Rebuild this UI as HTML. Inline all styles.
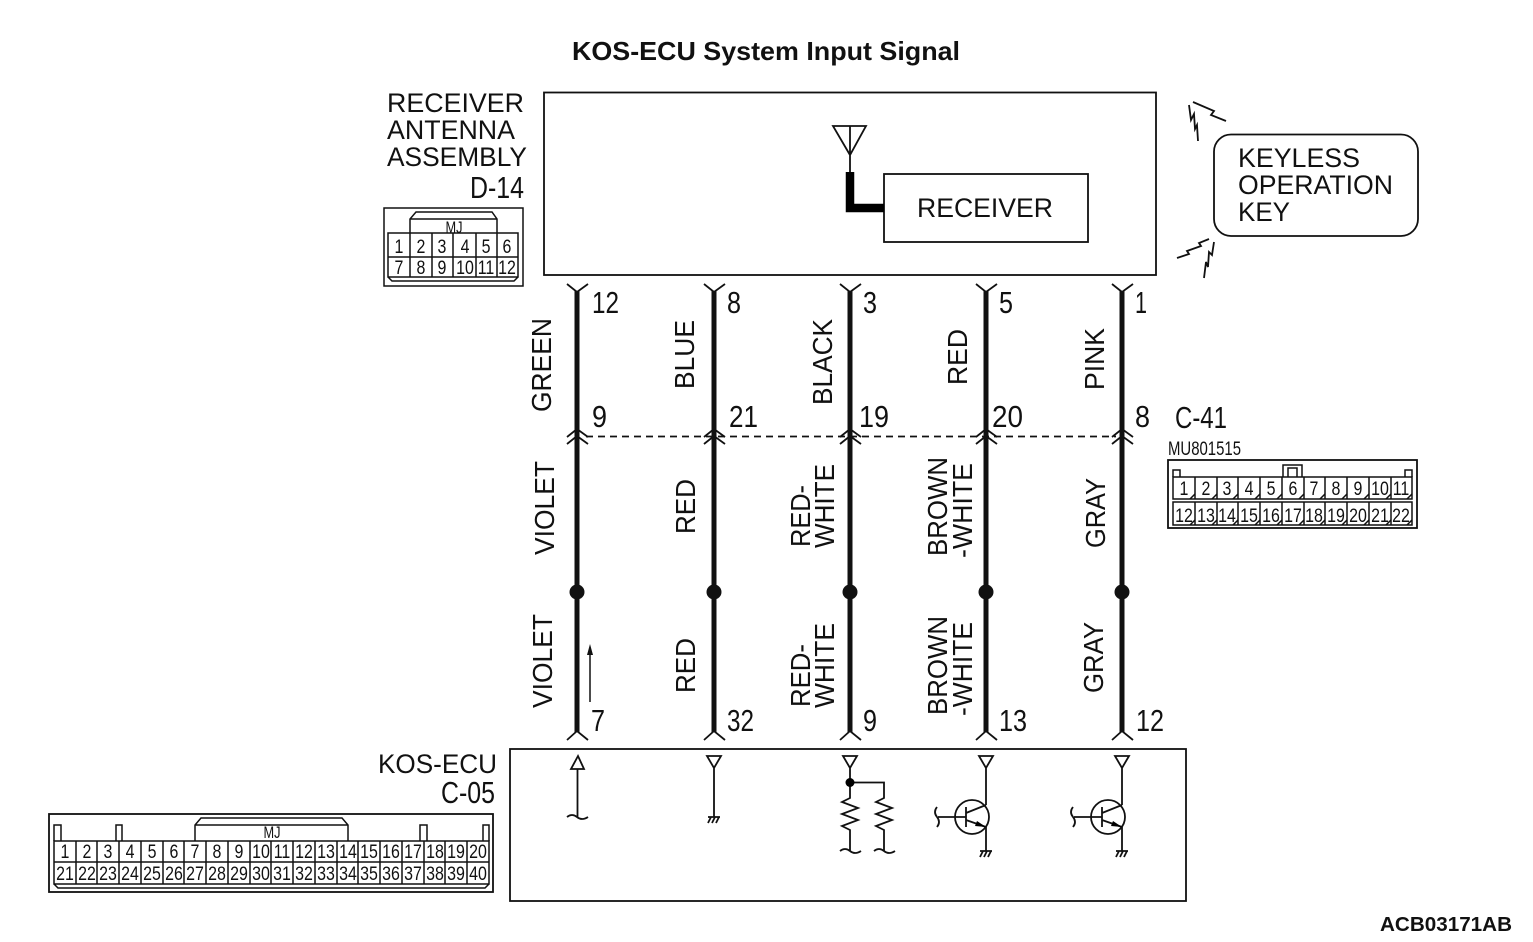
<!DOCTYPE html>
<html><head><meta charset="utf-8"><title>KOS-ECU System Input Signal</title>
<style>
html,body{margin:0;padding:0;background:#fff}
svg{display:block}
text{font-family:"Liberation Sans",sans-serif;fill:#111}
.l{font-size:27px}
.v text{font-size:28px}
.n{font-size:31px}
.c text{font-size:19px;text-anchor:middle;transform-box:fill-box;transform-origin:center;transform:scaleX(.84)}
.s{fill:none;stroke:#111;stroke-width:1.800}
.t{fill:none;stroke:#111;stroke-width:1.500}
.w{fill:none;stroke:#111;stroke-width:5}
</style></head><body>
<svg width="1533" height="942" viewBox="0 0 1533 942" xmlns="http://www.w3.org/2000/svg">
<text x="572" y="60" font-size="26" font-weight="bold" textLength="388" lengthAdjust="spacingAndGlyphs">KOS-ECU System Input Signal</text>
<text x="1380" y="931" font-size="20" font-weight="bold" textLength="132" lengthAdjust="spacingAndGlyphs">ACB03171AB</text>

<!-- boxes -->
<rect class="s" x="544" y="92.500" width="612" height="182.500"/>
<rect class="s" x="884" y="174" width="204" height="68"/>
<rect class="s" x="1214" y="134.500" width="204" height="101.500" rx="17"/>
<rect class="s" x="510" y="749" width="676" height="152"/>

<text class="l" x="387" y="112" textLength="137" lengthAdjust="spacingAndGlyphs">RECEIVER</text>
<text class="l" x="387" y="139" textLength="128" lengthAdjust="spacingAndGlyphs">ANTENNA</text>
<text class="l" x="387" y="166" textLength="140" lengthAdjust="spacingAndGlyphs">ASSEMBLY</text>
<text class="l" x="917" y="217" textLength="136" lengthAdjust="spacingAndGlyphs">RECEIVER</text>
<text class="l" x="1238" y="167" textLength="122" lengthAdjust="spacingAndGlyphs">KEYLESS</text>
<text class="l" x="1238" y="194" textLength="155" lengthAdjust="spacingAndGlyphs">OPERATION</text>
<text class="l" x="1238" y="221" textLength="52" lengthAdjust="spacingAndGlyphs">KEY</text>
<text class="l" x="378" y="773" textLength="119" lengthAdjust="spacingAndGlyphs">KOS-ECU</text>
<text class="n" x="441" y="803" textLength="54" lengthAdjust="spacingAndGlyphs">C-05</text>
<text class="n" x="470" y="198" textLength="54" lengthAdjust="spacingAndGlyphs">D-14</text>
<text class="n" x="1175" y="428" textLength="52" lengthAdjust="spacingAndGlyphs">C-41</text>
<text x="1168" y="455" font-size="19" textLength="73" lengthAdjust="spacingAndGlyphs">MU801515</text>

<!-- antenna -->
<path class="s" d="M833 126H866L850 155ZM850 126V175"/>
<path d="M850 172V208H884" fill="none" stroke="#000" stroke-width="8.500"/>

<!-- lightning -->
<path class="s" d="M1193 102L1214 111L1211 115L1226 121M1189 105L1191 120L1194 114L1195 129L1197 125L1198 141M1209 239L1199 243L1201 246L1187 251L1189 254L1177 258M1214 242L1212 255L1209 252L1208 267L1206 262L1204 278"/>

<!-- wires -->
<path class="w" d="M577 291V732M714 291V732M850 291V732M986 291V732M1122 291V732"/>
<path class="s" stroke-width="1.500" stroke-dasharray="7 5" d="M586 436.500H1116"/>
<g class="s">
<path d="M567 284L577 292L588 284M567 437L577 429L588 437M567 444L577 436L588 444M567 740L577 731L588 740"/>
<path d="M704 284L714 292L725 284M704 437L714 429L725 437M704 444L714 436L725 444M704 740L714 731L725 740"/>
<path d="M840 284L850 292L861 284M840 437L850 429L861 437M840 444L850 436L861 444M840 740L850 731L861 740"/>
<path d="M976 284L986 292L997 284M976 437L986 429L997 437M976 444L986 436L997 444M976 740L986 731L997 740"/>
<path d="M1112 284L1122 292L1133 284M1112 437L1122 429L1133 437M1112 444L1122 436L1133 444M1112 740L1122 731L1133 740"/>
</g>
<g fill="#111"><circle cx="577" cy="592" r="7.500"/><circle cx="714" cy="592" r="7.500"/><circle cx="850" cy="592" r="7.500"/><circle cx="986" cy="592" r="7.500"/><circle cx="1122" cy="592" r="7.500"/></g>
<path class="t" d="M590 702V650"/><path d="M590 644L587 655H593Z" fill="#111"/>

<!-- wire numbers -->
<g class="n">
<text x="592" y="313" textLength="27" lengthAdjust="spacingAndGlyphs">12</text>
<text x="727" y="313" textLength="14" lengthAdjust="spacingAndGlyphs">8</text>
<text x="863" y="313" textLength="14" lengthAdjust="spacingAndGlyphs">3</text>
<text x="999" y="313" textLength="14" lengthAdjust="spacingAndGlyphs">5</text>
<text x="1135" y="313" textLength="12" lengthAdjust="spacingAndGlyphs">1</text>
<text x="592" y="427" textLength="15" lengthAdjust="spacingAndGlyphs">9</text>
<text x="729" y="427" textLength="29" lengthAdjust="spacingAndGlyphs">21</text>
<text x="859" y="427" textLength="30" lengthAdjust="spacingAndGlyphs">19</text>
<text x="992" y="427" textLength="31" lengthAdjust="spacingAndGlyphs">20</text>
<text x="1135" y="427" textLength="15" lengthAdjust="spacingAndGlyphs">8</text>
<text x="591" y="731" textLength="14" lengthAdjust="spacingAndGlyphs">7</text>
<text x="727" y="731" textLength="27" lengthAdjust="spacingAndGlyphs">32</text>
<text x="863" y="731" textLength="14" lengthAdjust="spacingAndGlyphs">9</text>
<text x="999" y="731" textLength="28" lengthAdjust="spacingAndGlyphs">13</text>
<text x="1136" y="731" textLength="28" lengthAdjust="spacingAndGlyphs">12</text>
</g>

<!-- wire colours -->
<g class="v">
<text transform="translate(551 412) rotate(-90)" textLength="94" lengthAdjust="spacingAndGlyphs">GREEN</text>
<text transform="translate(694 389) rotate(-90)" textLength="69" lengthAdjust="spacingAndGlyphs">BLUE</text>
<text transform="translate(832 405) rotate(-90)" textLength="86" lengthAdjust="spacingAndGlyphs">BLACK</text>
<text transform="translate(967 385) rotate(-90)" textLength="56" lengthAdjust="spacingAndGlyphs">RED</text>
<text transform="translate(1104 390) rotate(-90)" textLength="62" lengthAdjust="spacingAndGlyphs">PINK</text>
<text transform="translate(554 555) rotate(-90)" textLength="94" lengthAdjust="spacingAndGlyphs">VIOLET</text>
<text transform="translate(695 534) rotate(-90)" textLength="55" lengthAdjust="spacingAndGlyphs">RED</text>
<text transform="translate(810 547) rotate(-90)" textLength="62" lengthAdjust="spacingAndGlyphs">RED-</text>
<text transform="translate(834 548) rotate(-90)" textLength="84" lengthAdjust="spacingAndGlyphs">WHITE</text>
<text transform="translate(947 556) rotate(-90)" textLength="99" lengthAdjust="spacingAndGlyphs">BROWN</text>
<text transform="translate(972 558) rotate(-90)" textLength="95" lengthAdjust="spacingAndGlyphs">-WHITE</text>
<text transform="translate(1105 548) rotate(-90)" textLength="70" lengthAdjust="spacingAndGlyphs">GRAY</text>
<text transform="translate(552 708) rotate(-90)" textLength="94" lengthAdjust="spacingAndGlyphs">VIOLET</text>
<text transform="translate(695 693) rotate(-90)" textLength="55" lengthAdjust="spacingAndGlyphs">RED</text>
<text transform="translate(810 707) rotate(-90)" textLength="63" lengthAdjust="spacingAndGlyphs">RED-</text>
<text transform="translate(834 708) rotate(-90)" textLength="85" lengthAdjust="spacingAndGlyphs">WHITE</text>
<text transform="translate(947 715) rotate(-90)" textLength="99" lengthAdjust="spacingAndGlyphs">BROWN</text>
<text transform="translate(972 716) rotate(-90)" textLength="94" lengthAdjust="spacingAndGlyphs">-WHITE</text>
<text transform="translate(1103 693) rotate(-90)" textLength="71" lengthAdjust="spacingAndGlyphs">GRAY</text>
</g>

<!-- ECU internals -->
<g class="s">
<path d="M578 756L571 769H584ZM577.500 769V817M567 817q5 -4 10 0t11 0"/>
<path d="M707 756H721L714 768ZM714 768V817M708 817H720M711 817L708 823M715 817L712 823M719 817L716 823"/>
<path d="M843 756H857L850 768ZM850 768V798L842 802L858 808L842 814L858 820L842 826L850 830V851M840 851q5 -4 10 0t11 0"/>
<path d="M850 782.500H884V798L876 802L892 808L876 814L892 820L876 826L884 830V851M874 851q5 -4 10 0t11 0"/>
<path d="M979 756H993L986 768ZM986 768V805M986 827V851M980 851H992M983 851L980 857M987 851L984 857M991 851L988 857"/>
<circle cx="972" cy="817" r="17"/>
<path d="M938 817H966M966 807V827M966 813L986 805M966 820L986 827M937 807q-4 5 0 10t0 10"/>
<path d="M1115 756H1129L1122 768ZM1122 768V805M1122 827V851M1116 851H1128M1119 851L1116 857M1123 851L1120 857M1127 851L1124 857"/>
<circle cx="1108" cy="817" r="17"/>
<path d="M1074 817H1102M1102 807V827M1102 813L1122 805M1102 820L1122 827M1073 807q-4 5 0 10t0 10"/>
</g>
<circle cx="850" cy="782.500" r="4.500" fill="#000"/>
<path d="M986 827L977 821L975 826Z M1122 827L1113 821L1111 826Z" fill="#000"/>

<!-- D-14 connector -->
<g class="t">
<rect x="384" y="208" width="139" height="78"/>
<path d="M410 233V219L416 212H492L497 219V233M410 219H497"/>
<path d="M388 233H518V277H388ZM388 257H518M410 233V277M432 233V277M453 233V277M476 233V277M497 233V277M388 277L392 281H514L518 277"/>
</g>
<text x="454" y="233" font-size="17" text-anchor="middle" textLength="17" lengthAdjust="spacingAndGlyphs">MJ</text>
<g class="c">
<text x="399" y="253">1</text><text x="421" y="253">2</text><text x="442" y="253">3</text><text x="465" y="253">4</text><text x="486" y="253">5</text><text x="507" y="253">6</text>
<text x="399" y="274">7</text><text x="421" y="274">8</text><text x="442" y="274">9</text><text x="465" y="274">10</text><text x="486" y="274">11</text><text x="507" y="274">12</text>
</g>

<!-- C-41 connector -->
<g class="t">
<rect x="1168" y="460" width="249" height="68" stroke-width="1.800"/>
<path d="M1173 477V470H1180V477M1405 477V470H1412V477M1283 477V465H1302V477M1288 477V468H1297V477"/>
<path d="M1173 477H1412V499H1173ZM1173 502H1412V525H1173Z"/>
<path d="M1195 477V499M1217 477V499M1238 477V499M1260 477V499M1282 477V499M1304 477V499M1325 477V499M1347 477V499M1369 477V499M1391 477V499M1195 502V525M1217 502V525M1238 502V525M1260 502V525M1282 502V525M1304 502V525M1325 502V525M1347 502V525M1369 502V525M1391 502V525"/>
<path d="M1190 499l5-5M1212 499l5-5M1233 499l5-5M1255 499l5-5M1277 499l5-5M1299 499l5-5M1320 499l5-5M1342 499l5-5M1364 499l5-5M1386 499l5-5M1407 499l5-5M1190 525l5-5M1212 525l5-5M1233 525l5-5M1255 525l5-5M1277 525l5-5M1299 525l5-5M1320 525l5-5M1342 525l5-5M1364 525l5-5M1386 525l5-5M1407 525l5-5"/>
</g>
<g class="c">
<text x="1184" y="495">1</text><text x="1206" y="495">2</text><text x="1227" y="495">3</text><text x="1249" y="495">4</text><text x="1271" y="495">5</text><text x="1293" y="495">6</text><text x="1314" y="495">7</text><text x="1336" y="495">8</text><text x="1358" y="495">9</text><text x="1380" y="495">10</text><text x="1401" y="495">11</text>
<text x="1184" y="522">12</text><text x="1206" y="522">13</text><text x="1227" y="522">14</text><text x="1249" y="522">15</text><text x="1271" y="522">16</text><text x="1293" y="522">17</text><text x="1314" y="522">18</text><text x="1336" y="522">19</text><text x="1358" y="522">20</text><text x="1380" y="522">21</text><text x="1401" y="522">22</text>
</g>

<!-- C-05 connector -->
<g class="t">
<rect x="49" y="814" width="444" height="78" stroke-width="1.800"/>
<path d="M54 841V825H61V841M116 841V825H122V841M420 841V825H427V841M483 841V825H489V841"/>
<path d="M195 841V825L201 818H342L348 825V841M195 825H348"/>
<path d="M54 841H489V884H54ZM54 862H489M54 884L58 888H485L489 884"/>
<path d="M76 841V884M97 841V884M119 841V884M141 841V884M163 841V884M184 841V884M206 841V884M228 841V884M250 841V884M271 841V884M293 841V884M315 841V884M337 841V884M358 841V884M380 841V884M402 841V884M424 841V884M445 841V884M467 841V884"/>
</g>
<text x="272" y="838" font-size="17" text-anchor="middle" textLength="17" lengthAdjust="spacingAndGlyphs">MJ</text>
<g class="c">
<text x="65" y="858">1</text><text x="87" y="858">2</text><text x="108" y="858">3</text><text x="130" y="858">4</text><text x="152" y="858">5</text><text x="174" y="858">6</text><text x="195" y="858">7</text><text x="217" y="858">8</text><text x="239" y="858">9</text><text x="261" y="858">10</text><text x="282" y="858">11</text><text x="304" y="858">12</text><text x="326" y="858">13</text><text x="348" y="858">14</text><text x="369" y="858">15</text><text x="391" y="858">16</text><text x="413" y="858">17</text><text x="435" y="858">18</text><text x="456" y="858">19</text><text x="478" y="858">20</text>
<text x="65" y="880">21</text><text x="87" y="880">22</text><text x="108" y="880">23</text><text x="130" y="880">24</text><text x="152" y="880">25</text><text x="174" y="880">26</text><text x="195" y="880">27</text><text x="217" y="880">28</text><text x="239" y="880">29</text><text x="261" y="880">30</text><text x="282" y="880">31</text><text x="304" y="880">32</text><text x="326" y="880">33</text><text x="348" y="880">34</text><text x="369" y="880">35</text><text x="391" y="880">36</text><text x="413" y="880">37</text><text x="435" y="880">38</text><text x="456" y="880">39</text><text x="478" y="880">40</text>
</g>
</svg>
</body></html>
